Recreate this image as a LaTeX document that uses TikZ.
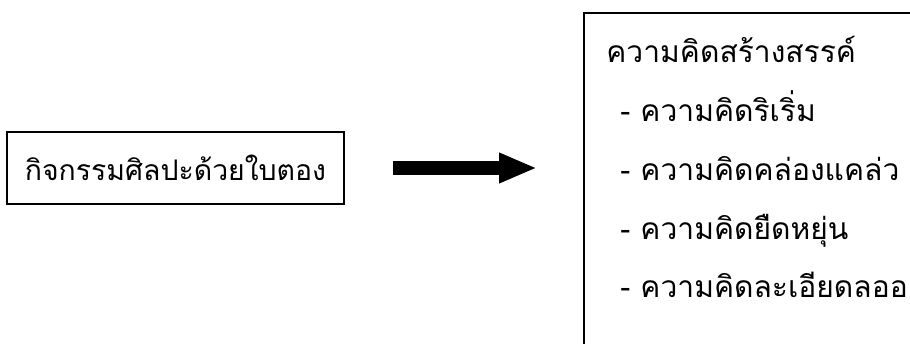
\documentclass[tikz,border=0pt]{standalone}
\usepackage{fontspec}
\newfontfamily\thaifont[Script=Thai]{Loma}
\usetikzlibrary{arrows.meta, positioning}

\begin{document}
\begin{tikzpicture}[x=0.5pt, y=-0.5pt, font=\thaifont\fontsize{15}{29.4}\selectfont,
  bx/.style={draw, line width=0.8pt, inner sep=0pt},
  ar/.style={-{Triangle[length=19pt, width=14pt]}, line width=7pt}]
\useasboundingbox (0,0) rectangle (910,343);
\node[bx, minimum width=168.5pt, minimum height=36pt, font=\thaifont\fontsize{14.2}{16}\selectfont] (act) at (175.5,168) {กิจกรรมศิลปะด้วยใบตอง};
\node[bx, anchor=north west, minimum width=180pt, minimum height=200pt] (res) at (583,12) {};
\node[align=left, anchor=north west, inner sep=0pt] (ideas) at (606,36) {ความคิดสร้างสรรค์\\
  \hspace*{7pt}- ความคิดริเริ่ม\\
  \hspace*{7pt}- ความคิดคล่องแคล่ว\\
  \hspace*{7pt}- ความคิดยืดหยุ่น\\
  \hspace*{7pt}- ความคิดละเอียดลออ};
\draw[ar] ([xshift=24pt]act.east) -- ([xshift=-23pt]act.east -| res.west);
\end{tikzpicture}
\end{document}
